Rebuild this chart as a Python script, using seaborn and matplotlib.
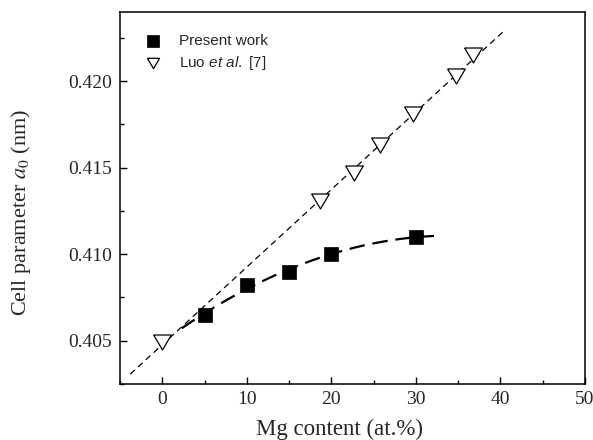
import numpy as np
import pandas as pd
import matplotlib
matplotlib.use("Agg")
import matplotlib.pyplot as plt
from matplotlib.font_manager import FontProperties
import seaborn as sns

# Data
present_x = [5, 10, 15, 20, 30]
present_y = [0.4065, 0.4082, 0.4090, 0.4100, 0.4110]
luo_x = [0, 18.7, 22.7, 25.7, 29.7, 34.7, 36.8]
luo_y = [0.4049, 0.4131, 0.4147, 0.4163, 0.4181, 0.4203, 0.4215]
x_ticks = [0, 10, 20, 30, 40, 50]
y_ticks = [0.405, 0.410, 0.415, 0.420]

sns.set_style("ticks")
plt.rcParams['font.family'] = ['Liberation Serif', 'DejaVu Serif']
plt.rcParams['xtick.direction'] = 'in'
plt.rcParams['ytick.direction'] = 'in'
plt.rcParams['mathtext.it'] = 'Liberation Sans:italic'
plt.rcParams['mathtext.rm'] = 'Liberation Sans'
plt.rcParams['mathtext.fontset'] = 'custom'

fig = plt.figure(figsize=(5.93, 4.40), dpi=100)
ax = fig.add_axes([120/593, 1-384/440, (585-120)/593, (384-12)/440])

# fit lines derived from the data
lin = np.polyfit(luo_x, luo_y, 1)
lx = np.linspace(-3.8, 40.6, 50)
quad = np.polyfit(present_x, present_y, 2)
qx = np.linspace(2.3, 32.7, 80)
lin_df = pd.DataFrame({"x": lx, "y": np.polyval(lin, lx)})
quad_df = pd.DataFrame({"x": qx, "y": np.polyval(quad, qx)})

sns.lineplot(data=lin_df, x="x", y="y", ax=ax, color="black", lw=0.9,
             linestyle=(0, (5, 3.5)), zorder=1)
sns.lineplot(data=quad_df, x="x", y="y", ax=ax, color="black", lw=1.6,
             linestyle=(0, (7, 3.5)), zorder=1)

tri = [(-1, 0.85), (1, 0.85), (0, -0.85), (-1, 0.85)]
sns.scatterplot(x=present_x, y=present_y, ax=ax, marker="s", s=13**2 * 0.52,
                color="black", edgecolor="black", linewidth=0.5, zorder=3,
                label="Present work")
sns.scatterplot(x=luo_x, y=luo_y, ax=ax, marker=tri, s=12.7**2,
                facecolor="white", edgecolor="black", linewidth=0.9, zorder=3,
                label=r"Luo $\mathit{et\ al.}$ [7]")

ax.set_xlim(-5, 50)
ax.set_ylim(0.403, 0.424)
ax.set_xticks(x_ticks)
ax.set_yticks(y_ticks)
ax.set_xticks(np.arange(-5, 50.1, 5), minor=True)
ax.set_yticks(np.arange(0.4025, 0.4241, 0.0025), minor=True)
ax.set_xticklabels([str(v) for v in x_ticks])
ax.set_yticklabels([f"{v:.3f}" for v in y_ticks])
ax.tick_params(which="major", length=5, width=1, labelsize=14, color="black")
ax.tick_params(axis="x", which="major", pad=5)
ax.tick_params(axis="y", which="major", pad=6)
ax.tick_params(which="minor", length=3, width=1, color="black")
for sp in ax.spines.values():
    sp.set_visible(True)
    sp.set_linewidth(1.1)
    sp.set_color("black")

ax.set_xlabel("Mg content (at.%)", fontsize=16.5)
ax.set_ylabel(r"Cell parameter $a_{\mathit{0}}$ (nm)", fontsize=16,
              math_fontfamily="stix")
ax.xaxis.set_label_coords(0.473, -0.094)
ax.yaxis.set_label_coords(-0.187, 0.462)

lp = FontProperties(family=['Liberation Sans', 'DejaVu Sans'], size=11,
                    math_fontfamily="custom")
leg = ax.legend(loc="upper left", bbox_to_anchor=(0.031, 0.969), frameon=False,
                prop=lp, handletextpad=1.25, labelspacing=0.35, borderaxespad=0.3,
                handlelength=1.0)
for h in leg.legend_handles:
    try:
        h.set_sizes([9**2 * 0.95])
    except Exception:
        pass

fig.savefig("out.png", dpi=100)
